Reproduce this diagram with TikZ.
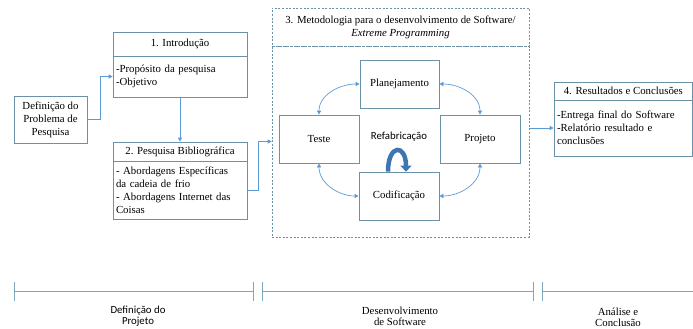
\documentclass[tikz,border=0pt]{standalone}
\usepackage{fontspec}
\setmainfont{Liberation Serif}
\newfontfamily\calib{Carlito}
\usetikzlibrary{arrows.meta}
\definecolor{boxcol}{RGB}{105,145,168}
\definecolor{arrcol}{RGB}{91,155,213}
\definecolor{linecol}{RGB}{125,168,188}
\definecolor{refcol}{RGB}{62,118,178}
\tikzset{
  box/.style={draw=boxcol, line width=0.7pt, rectangle, inner sep=3pt, font=\fontsize{10.8}{13}\selectfont},
  dbox/.style={draw=boxcol, line width=0.7pt, dash pattern=on 2pt off 1.6pt, rectangle, inner sep=3pt, font=\fontsize{10.8}{13}\selectfont},
  conn/.style={draw=arrcol, line width=0.7pt, -{Triangle[length=4pt,width=4pt]}},
  dconn/.style={draw=arrcol, line width=0.7pt, {Triangle[length=4pt,width=4pt]}-{Triangle[length=4pt,width=4pt]}},
  tl/.style={draw=linecol, line width=0.8pt},
  lab/.style={align=center, font=\fontsize{10.8}{11}\selectfont, inner sep=0pt}
}
\begin{document}
\begin{tikzpicture}[x=1pt,y=-1pt]
\useasboundingbox (0,0) rectangle (693,329);
% left column
\node[box, minimum width=73pt, minimum height=47pt, align=center] (def) at (50.5,119.5) {Definição do\\Problema de\\Pesquisa};
\node[box, minimum width=134pt, minimum height=24pt] (introH) at (180,44) {1. Introdução};
\node[box, text width=128pt, minimum height=41pt, align=left] (introB) at (180,76.5) {-Propósito da pesquisa\\-Objetivo};
\node[box, minimum width=134pt, minimum height=19pt] (pesqH) at (180,151.5) {2. Pesquisa Bibliográfica};
\node[box, text width=128pt, minimum height=58pt, align=left] (pesqB) at (180,190) {- Abordagens Específicas\\da cadeia de frio\\- Abordagens Internet das\\Coisas};
% main dashed box
\node[dbox, minimum width=257pt, minimum height=38pt, align=center] (mainH) at (400.5,27) {3. Metodologia para o desenvolvimento de Software/\\\textit{Extreme Programming}};
\node[dbox, minimum width=257pt, minimum height=191pt] (mainB) at (400.5,141.5) {};
\node[box, minimum width=79pt, minimum height=48pt] (plan) at (399.5,84) {Planejamento};
\node[box, minimum width=80pt, minimum height=48pt] (teste) at (319,139) {Teste};
\node[box, minimum width=80pt, minimum height=48pt] (proj) at (480,139) {Projeto};
\node[box, minimum width=80pt, minimum height=48pt] (codif) at (399,196) {Codificação};
\node[lab, font=\calib\fontsize{10.8}{11}\selectfont] (refab) at (399,137) {Refabricação};
% results box
\node[box, minimum width=138pt, minimum height=18pt, anchor=west, align=left] (resH) at (554,91) {4. Resultados e Conclusões};
\node[box, text width=132pt, minimum height=56pt, align=left] (resB) at (623,128) {-Entrega final do Software\\-Relatório resultado e\\conclusões};
% connectors
\draw[conn] (def.east) -- ++(13,0) |- (introB.west);
\draw[conn] (introB.south) -- (pesqH.north);
\draw[conn] (pesqB.east) -- ++(11,0) |- (mainB.west);
\draw[conn] (mainB.east |- resB.west) -- (resB.west);
\draw[dconn] (plan.west) to[out=180, in=90] (teste.north);
\draw[dconn] (plan.east) to[out=0, in=90] (proj.north);
\draw[dconn] (teste.south) to[out=-90, in=180] (codif.west);
\draw[dconn] (proj.south) to[out=-90, in=0] (codif.east);
\coordinate (rs) at ([xshift=-11pt]codif.north);
\coordinate (re) at ([xshift=7pt]codif.north);
\draw[refcol, line width=4.5pt, -{Triangle[length=6pt,width=11pt]}] (rs) .. controls ([yshift=28pt]rs) and ([yshift=28pt]re) .. (re);
% timeline
\draw[tl] (14,291) -- (253,291);
\draw[tl] (14,282) -- (14,301);
\draw[tl] (253,282) -- (253,301);
\draw[tl] (262,282) -- (262,301);
\draw[tl] (262,291) -- (533,291);
\draw[tl] (533,282) -- (533,301);
\draw[tl] (542,282) -- (542,301);
\draw[tl] (542,291) -- (693,291);
\node[lab, font=\calib\fontsize{10.8}{11}\selectfont] (t1) at (138,316) {Definição do\\Projeto};
\node[lab] (t2) at (400,316) {Desenvolvimento\\de Software};
\node[lab] (t3) at (618,317) {Análise e\\Conclusão};
\end{tikzpicture}
\end{document}
